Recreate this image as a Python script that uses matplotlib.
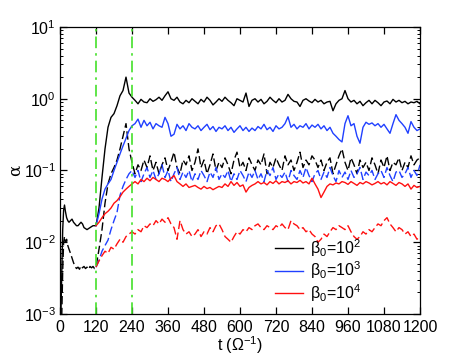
import numpy as np
import matplotlib
matplotlib.use("Agg")
import matplotlib.pyplot as plt
from matplotlib.ticker import LogLocator, FixedLocator, NullFormatter

plt.rcParams['font.family'] = ['Liberation Sans', 'DejaVu Sans']
plt.rcParams['mathtext.fontset'] = 'custom'
plt.rcParams['mathtext.rm'] = 'Liberation Sans'
plt.rcParams['mathtext.it'] = 'Liberation Sans:italic'

# early phase, beta0=1e2 only
t_pre = [0, 3, 6, 9, 12, 15, 18, 22, 26, 30, 35, 40, 45, 50, 55, 60, 65, 70,
         75, 80, 85, 90, 95, 100, 105, 110, 115]
b2_solid_pre = [0.0005, 0.001, 0.004, 0.015, 0.028, 0.033, 0.027, 0.022, 0.02, 0.019,
                0.02, 0.021, 0.019, 0.018, 0.017, 0.017, 0.018, 0.019, 0.018, 0.016,
                0.0155, 0.015, 0.0155, 0.016, 0.0165, 0.017, 0.017]
b2_dash_pre = [0.0003, 0.0005, 0.001, 0.004, 0.01, 0.012, 0.01, 0.011, 0.009, 0.008,
               0.007, 0.006, 0.0052, 0.0046, 0.0043, 0.0045, 0.0042, 0.0047, 0.0044, 0.0046,
               0.0043, 0.0045, 0.0042, 0.0046, 0.0044, 0.0046, 0.0043]

# t = 120 ... 1200, step 10
t_run = np.arange(120, 1201, 10)

b2_solid = [0.017, 0.03, 0.08, 0.2, 0.4, 0.55, 0.62, 0.8, 1.1, 1.3, 2.0, 1.2, 1.05,
            0.95, 0.85, 0.98, 0.9, 0.88, 1.0, 0.92, 0.97, 1.05, 0.95,
            1.1, 1.25, 1.0, 0.95, 1.05, 0.9, 0.85, 0.95, 0.88, 1.0,
            0.92, 0.85, 0.98, 0.9, 1.05, 0.95, 0.82, 0.9, 1.0, 0.92,
            1.05, 0.95, 0.88, 0.8, 1.0, 0.95, 0.9, 1.2, 0.78, 0.95,
            1.0, 0.9, 0.98, 0.85, 0.92, 1.05, 0.95, 0.88, 1.0, 0.9,
            0.95, 1.15, 1.0, 0.92, 0.9, 0.78, 0.95, 1.0, 0.93, 0.88,
            0.98, 0.9, 0.95, 0.85, 0.9, 0.92, 0.68, 0.85, 0.95, 1.0,
            1.3, 1.0, 0.9, 0.95, 0.85, 0.92, 0.8, 0.88, 0.95, 0.85,
            0.95, 0.88, 0.8, 0.9, 0.93, 0.85, 0.98, 0.9, 0.95, 0.88,
            0.92, 0.85, 0.9, 0.88, 0.92, 0.85]

b2_dash = [0.0045, 0.008, 0.015, 0.035, 0.065, 0.09, 0.11, 0.14, 0.2, 0.3, 0.45, 0.2, 0.13,
           0.09, 0.12, 0.1, 0.14, 0.11, 0.16, 0.1, 0.13, 0.09, 0.12,
           0.15, 0.1, 0.13, 0.18, 0.11, 0.09, 0.14, 0.12, 0.16, 0.1,
           0.13, 0.2, 0.11, 0.14, 0.09, 0.12, 0.17, 0.1, 0.13, 0.11,
           0.15, 0.12, 0.09, 0.14, 0.18, 0.11, 0.13, 0.1, 0.15, 0.12,
           0.1, 0.14, 0.12, 0.17, 0.09, 0.13, 0.11, 0.15, 0.12, 0.1,
           0.16, 0.12, 0.14, 0.1, 0.13, 0.18, 0.11, 0.14, 0.12, 0.16,
           0.14, 0.11, 0.14, 0.1, 0.13, 0.15, 0.09, 0.12, 0.16, 0.2,
           0.13, 0.1, 0.15, 0.12, 0.09, 0.14, 0.11, 0.13, 0.1, 0.15,
           0.12, 0.09, 0.14, 0.11, 0.16, 0.1, 0.13, 0.12, 0.15, 0.1,
           0.13, 0.11, 0.16, 0.12, 0.14, 0.15]

b3_solid = [0.017, 0.025, 0.04, 0.055, 0.065, 0.075, 0.1, 0.13, 0.17, 0.22, 0.28, 0.36, 0.42,
            0.45, 0.52, 0.4, 0.5, 0.42, 0.47, 0.38, 0.45, 0.42, 0.4,
            0.55, 0.45, 0.3, 0.32, 0.44, 0.38, 0.42, 0.36, 0.45, 0.4,
            0.38, 0.42, 0.36, 0.4, 0.44, 0.37, 0.41, 0.35, 0.4, 0.38,
            0.42, 0.36, 0.4, 0.34, 0.38, 0.42, 0.36, 0.4, 0.35, 0.39,
            0.36, 0.41, 0.38, 0.44, 0.37, 0.4, 0.35, 0.42, 0.38, 0.4,
            0.45, 0.56, 0.4, 0.44, 0.38, 0.42, 0.4, 0.45, 0.38, 0.43,
            0.4, 0.44, 0.38, 0.42, 0.36, 0.4, 0.33, 0.3, 0.27, 0.25,
            0.45, 0.58, 0.42, 0.45, 0.3, 0.24, 0.4, 0.47, 0.44, 0.46,
            0.42, 0.45, 0.4, 0.44, 0.38, 0.33, 0.45, 0.6, 0.5, 0.45,
            0.4, 0.33, 0.48, 0.4, 0.36, 0.38]

b3_dash = [0.0045, 0.0056, 0.0075, 0.009, 0.0107, 0.015, 0.02, 0.026, 0.045, 0.06, 0.075, 0.09, 0.1,
           0.08, 0.1, 0.07, 0.09, 0.11, 0.08, 0.1, 0.075, 0.09, 0.12,
           0.08, 0.1, 0.07, 0.09, 0.11, 0.075, 0.095, 0.08, 0.1, 0.07,
           0.09, 0.075, 0.1, 0.085, 0.07, 0.095, 0.08, 0.11, 0.075, 0.09,
           0.08, 0.1, 0.07, 0.09, 0.075, 0.1, 0.085, 0.07, 0.095, 0.08,
           0.1, 0.075, 0.09, 0.07, 0.1, 0.085, 0.11, 0.075, 0.09, 0.08,
           0.095, 0.07, 0.1, 0.085, 0.075, 0.1, 0.08, 0.11, 0.085, 0.07,
           0.09, 0.1, 0.075, 0.095, 0.08, 0.11, 0.085, 0.07, 0.1, 0.08,
           0.095, 0.075, 0.1, 0.08, 0.09, 0.11, 0.075, 0.095, 0.085, 0.1,
           0.075, 0.09, 0.1, 0.08, 0.11, 0.085, 0.07, 0.095, 0.1, 0.08,
           0.09, 0.11, 0.08, 0.1, 0.085, 0.12]

b4_solid = [0.017, 0.019, 0.022, 0.025, 0.027, 0.03, 0.035, 0.038, 0.043, 0.05, 0.055, 0.06, 0.065,
            0.07, 0.065, 0.075, 0.07, 0.078, 0.072, 0.08, 0.075, 0.07, 0.078,
            0.075, 0.07, 0.078, 0.085, 0.07, 0.065, 0.06, 0.065, 0.058, 0.06,
            0.062, 0.058, 0.055, 0.06, 0.056, 0.058, 0.054, 0.057, 0.06, 0.058,
            0.065, 0.06, 0.07, 0.062, 0.068, 0.06, 0.063, 0.05, 0.058, 0.062,
            0.065, 0.07, 0.065, 0.068, 0.063, 0.07, 0.066, 0.072, 0.065, 0.07,
            0.068, 0.072, 0.065, 0.07, 0.068, 0.073, 0.067, 0.07, 0.065, 0.078,
            0.065, 0.055, 0.042, 0.05, 0.06, 0.065, 0.063, 0.067, 0.065, 0.07,
            0.068, 0.064, 0.07, 0.066, 0.062, 0.068, 0.065, 0.07, 0.067, 0.063,
            0.066, 0.07, 0.065, 0.068, 0.063, 0.07, 0.066, 0.062, 0.068, 0.065,
            0.06, 0.065, 0.055, 0.062, 0.058, 0.06]

b4_dash = [0.0045, 0.0055, 0.0065, 0.0075, 0.007, 0.0085, 0.008, 0.0095, 0.011, 0.01, 0.012, 0.013, 0.014,
           0.013, 0.015, 0.014, 0.017, 0.016, 0.018, 0.017, 0.02, 0.018, 0.021,
           0.019, 0.022, 0.018, 0.016, 0.011, 0.02, 0.015, 0.013, 0.014, 0.012,
           0.013, 0.015, 0.012, 0.014, 0.013, 0.016, 0.014, 0.017, 0.018, 0.015,
           0.012, 0.011, 0.01, 0.012, 0.014, 0.013, 0.015, 0.014, 0.016, 0.015,
           0.017, 0.018, 0.016, 0.015, 0.017, 0.016, 0.015, 0.017, 0.016, 0.018,
           0.016, 0.015, 0.02, 0.018, 0.017, 0.015, 0.016, 0.014, 0.015, 0.013,
           0.012, 0.01, 0.011, 0.013, 0.012, 0.014, 0.016, 0.015, 0.017, 0.016,
           0.015, 0.017, 0.014, 0.012, 0.011, 0.012, 0.014, 0.013, 0.015, 0.014,
           0.016, 0.018, 0.017, 0.02, 0.022, 0.018, 0.016, 0.014, 0.016, 0.015,
           0.013, 0.014, 0.012, 0.013, 0.011, 0.012]

t_marks = [120, 240]
xticks = np.arange(0, 1201, 120)

fig = plt.figure(figsize=(4.63, 3.55), dpi=100)
ax = fig.add_axes([0.1296, 0.1155, 0.7775, 0.8085])

t_b2 = np.concatenate([t_pre, t_run])
dash = (0, (6, 2.5))

ax.plot(t_b2, b2_dash_pre + b2_dash, color='black', lw=1.0, ls=dash)
ax.plot(t_run, b3_dash, color='#2040ff', lw=1.0, ls=dash)
ax.plot(t_run, b4_dash, color='#ff1010', lw=1.0, ls=dash)
ax.plot(t_b2, b2_solid_pre + b2_solid, color='black', lw=1.0, label='β$_0$=10$^2$')
ax.plot(t_run, b3_solid, color='#2040ff', lw=1.0, label='β$_0$=10$^3$')
ax.plot(t_run, b4_solid, color='#ff1010', lw=1.0, label='β$_0$=10$^4$')

for tm in t_marks:
    ax.axvline(tm, color='#44e02a', lw=1.2, ls=(0, (7, 3, 1.5, 3)))

ax.set_yscale('log')
ax.set_xlim(0, 1200)
ax.set_ylim(1e-3, 1e1)
ax.xaxis.set_major_locator(FixedLocator(xticks))
ax.yaxis.set_major_locator(LogLocator(base=10, numticks=10))
ax.yaxis.set_minor_locator(LogLocator(base=10, subs=np.arange(2, 10), numticks=10))
ax.yaxis.set_minor_formatter(NullFormatter())
ax.tick_params(which='both', direction='in', top=True, right=True, labelsize=11.5)
ax.tick_params(which='major', length=5, width=0.9, pad=3)
ax.tick_params(axis='x', which='major', pad=4)
ax.tick_params(which='minor', length=2.5, width=0.7)
for s in ax.spines.values():
    s.set_linewidth(0.9)

ax.set_xlabel(r't ($\Omega^{-1}$)', fontsize=11.5, labelpad=0)
ax.set_ylabel('α', fontsize=12, family=['DejaVu Serif'])
ax.yaxis.set_label_coords(-0.1, 0.5)

ax.legend(loc='lower left', frameon=False, fontsize=11.5, handlelength=1.75,
          handletextpad=0.45, labelspacing=0.05, borderpad=0, borderaxespad=0,
          bbox_to_anchor=(0.597, 0.035))

fig.savefig('out.png', dpi=100)
